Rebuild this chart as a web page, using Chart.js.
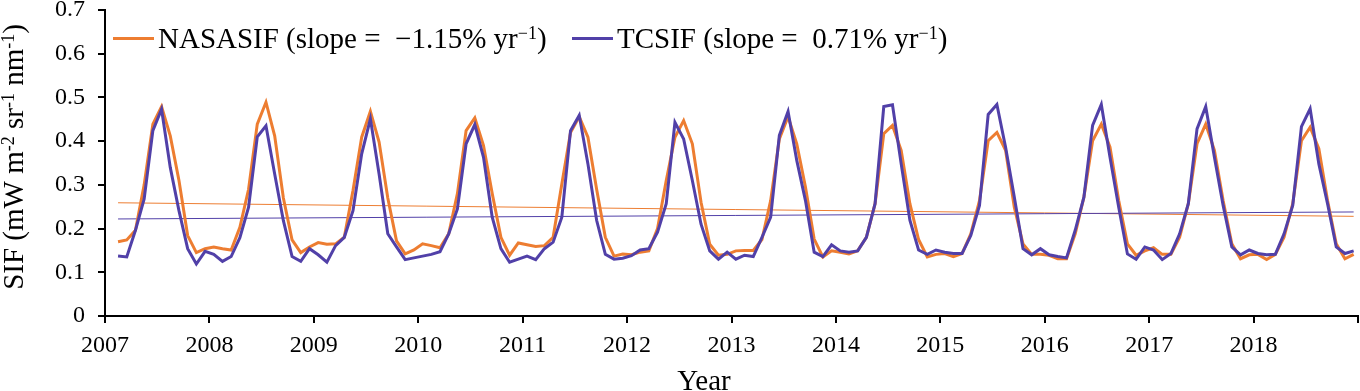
<!DOCTYPE html>
<html>
<head>
<meta charset="utf-8">
<script src="https://cdn.jsdelivr.net/npm/chart.js@4.4.1/dist/chart.umd.min.js"></script>
<style>
  html, body { margin: 0; padding: 0; background: #fff; }
  canvas { display: block; }
</style>
</head>
<body>
<canvas id="sif" width="1360" height="391"></canvas>
<script>
// monthly series, Feb 2007 .. Dec 2018 (one row per year)
const startYear = 2007;
const startMonth = 2;

const nasaSIF = [
  0.170, 0.174, 0.196, 0.300, 0.439, 0.479, 0.412, 0.310, 0.184, 0.145, 0.154,
  0.158, 0.154, 0.151, 0.203, 0.290, 0.439, 0.489, 0.412, 0.270, 0.174, 0.145, 0.158,
  0.168, 0.164, 0.165, 0.180, 0.287, 0.409, 0.468, 0.398, 0.270, 0.172, 0.142, 0.151,
  0.165, 0.161, 0.156, 0.188, 0.280, 0.424, 0.453, 0.390, 0.280, 0.180, 0.139, 0.167,
  0.163, 0.159, 0.161, 0.180, 0.302, 0.420, 0.456, 0.409, 0.290, 0.180, 0.137, 0.142,
  0.140, 0.146, 0.149, 0.200, 0.310, 0.409, 0.447, 0.394, 0.260, 0.164, 0.139, 0.141,
  0.149, 0.150, 0.150, 0.175, 0.264, 0.405, 0.456, 0.394, 0.295, 0.176, 0.135, 0.149,
  0.146, 0.142, 0.149, 0.180, 0.257, 0.417, 0.436, 0.379, 0.257, 0.175, 0.135, 0.141,
  0.143, 0.136, 0.143, 0.188, 0.264, 0.401, 0.420, 0.379, 0.249, 0.165, 0.141, 0.141,
  0.139, 0.131, 0.131, 0.188, 0.272, 0.401, 0.439, 0.386, 0.264, 0.165, 0.139, 0.149,
  0.156, 0.141, 0.141, 0.180, 0.257, 0.394, 0.439, 0.379, 0.264, 0.165, 0.131, 0.140,
  0.141, 0.129, 0.141, 0.180, 0.257, 0.401, 0.432, 0.383, 0.264, 0.165, 0.131, 0.141
];

const tcSIF = [
  0.137, 0.135, 0.196, 0.268, 0.424, 0.473, 0.340, 0.241, 0.154, 0.119, 0.148,
  0.141, 0.125, 0.136, 0.179, 0.249, 0.410, 0.435, 0.325, 0.218, 0.136, 0.125, 0.154,
  0.140, 0.123, 0.161, 0.180, 0.241, 0.371, 0.451, 0.325, 0.188, 0.158, 0.129, 0.133,
  0.137, 0.141, 0.147, 0.188, 0.245, 0.394, 0.438, 0.363, 0.226, 0.154, 0.123, 0.130,
  0.137, 0.129, 0.154, 0.169, 0.226, 0.424, 0.459, 0.348, 0.219, 0.141, 0.130, 0.132,
  0.138, 0.151, 0.154, 0.192, 0.257, 0.443, 0.405, 0.310, 0.210, 0.149, 0.130, 0.146,
  0.130, 0.139, 0.136, 0.180, 0.226, 0.413, 0.468, 0.356, 0.264, 0.146, 0.136, 0.163,
  0.149, 0.146, 0.149, 0.180, 0.257, 0.479, 0.483, 0.348, 0.219, 0.151, 0.141, 0.151,
  0.146, 0.143, 0.143, 0.184, 0.253, 0.461, 0.484, 0.386, 0.272, 0.154, 0.140, 0.154,
  0.140, 0.136, 0.133, 0.196, 0.272, 0.436, 0.484, 0.363, 0.249, 0.142, 0.130, 0.158,
  0.151, 0.129, 0.143, 0.188, 0.257, 0.428, 0.479, 0.363, 0.253, 0.158, 0.140, 0.151,
  0.143, 0.140, 0.141, 0.188, 0.253, 0.433, 0.474, 0.348, 0.257, 0.158, 0.143, 0.149
];

// linear trend lines, value at first and last month
const nasaTrend = [0.259, 0.228];
const tcTrend = [0.222, 0.238];

const yearTicks = [2007, 2008, 2009, 2010, 2011, 2012, 2013, 2014, 2015, 2016, 2017, 2018];
const yTicks = [0, 0.1, 0.2, 0.3, 0.4, 0.5, 0.6, 0.7];

const ORANGE = "#ED7D31";
const PURPLE = "#5140A8";
const FONT = "'Liberation Serif', 'Times New Roman', serif";

// month -> decimal year at mid-month
const monthX = nasaSIF.map((_, i) => {
  const m = startMonth - 1 + i;
  return startYear + Math.floor(m / 12) + ((m % 12) + 0.5) / 12;
});
const toPoints = (arr) => arr.map((v, i) => ({ x: monthX[i], y: v }));
const trendPoints = (ends) => [
  { x: monthX[0], y: ends[0] },
  { x: monthX[monthX.length - 1], y: ends[1] }
];

// text with superscript pieces; parts = [[text, isSup], ...]
function richText(ctx, parts, x, y, size) {
  let cx = x;
  parts.forEach(([t, sup]) => {
    ctx.font = (sup ? Math.round(size * 0.62) : size) + "px " + FONT;
    ctx.fillText(t, cx, sup ? y - size * 0.3 : y);
    cx += ctx.measureText(t).width;
  });
  return cx;
}
function richWidth(ctx, parts, size) {
  let w = 0;
  parts.forEach(([t, sup]) => {
    ctx.font = (sup ? Math.round(size * 0.62) : size) + "px " + FONT;
    w += ctx.measureText(t).width;
  });
  return w;
}

const legendItems = [
  { color: ORANGE, parts: [["NASASIF (slope =  \u22121.15% yr", false], ["\u22121", true], [")", false]], x: 113 },
  { color: PURPLE, parts: [["TCSIF (slope =  0.71% yr", false], ["\u22121", true], [")", false]], x: 572 }
];

const textPlugin = {
  id: "textPlugin",
  afterDraw(chart) {
    const ctx = chart.ctx;
    ctx.save();
    ctx.fillStyle = "#000";
    ctx.textBaseline = "alphabetic";
    ctx.textAlign = "left";

    // legend
    legendItems.forEach(item => {
      ctx.strokeStyle = item.color;
      ctx.lineWidth = 3;
      ctx.beginPath();
      ctx.moveTo(item.x, 38.5);
      ctx.lineTo(item.x + 41, 38.5);
      ctx.stroke();
      richText(ctx, item.parts, item.x + 45, 48, 29);
    });

    // x title
    ctx.font = "29px " + FONT;
    ctx.textAlign = "center";
    ctx.fillText("Year", 704, 390);
    ctx.textAlign = "left";

    // y title
    const yParts = [["SIF (mW m", false], ["-2", true], [" sr", false], ["-1", true], [" nm", false], ["-1", true], [")", false]];
    const w = richWidth(ctx, yParts, 29);
    ctx.translate(23, 157);
    ctx.rotate(-Math.PI / 2);
    richText(ctx, yParts, -w / 2, 0, 29);
    ctx.restore();
  }
};

new Chart(document.getElementById("sif"), {
  type: "line",
  data: {
    datasets: [
      {
        label: "TCSIF",
        data: toPoints(tcSIF),
        borderColor: PURPLE,
        borderWidth: 3,
        pointRadius: 0,
        tension: 0,
        order: 0
      },
      {
        label: "NASASIF",
        data: toPoints(nasaSIF),
        borderColor: ORANGE,
        borderWidth: 3,
        pointRadius: 0,
        tension: 0,
        order: 1
      },
      {
        label: "TCSIF trend",
        data: trendPoints(tcTrend),
        borderColor: PURPLE,
        borderWidth: 1,
        pointRadius: 0,
        order: 2
      },
      {
        label: "NASASIF trend",
        data: trendPoints(nasaTrend),
        borderColor: ORANGE,
        borderWidth: 1,
        pointRadius: 0,
        order: 3
      }
    ]
  },
  options: {
    responsive: false,
    animation: false,
    devicePixelRatio: 1,
    layout: { padding: { top: 10, right: 2, left: 0, bottom: 0 } },
    plugins: {
      legend: { display: false },
      tooltip: { enabled: false }
    },
    scales: {
      x: {
        type: "linear",
        min: 2007,
        max: 2019,
        afterBuildTicks: (scale) => {
          scale.ticks = yearTicks.concat([2019]).map(v => ({ value: v }));
        },
        afterFit: (scale) => {
          scale.height = 75;
          scale.paddingLeft = 0;
          scale.paddingRight = 0;
        },
        ticks: {
          color: "#000",
          font: { family: FONT, size: 24 },
          padding: 8,
          maxRotation: 0,
          autoSkip: false,
          callback: (v) => (yearTicks.includes(v) ? String(v) : "")
        },
        grid: { drawOnChartArea: false, drawTicks: true, tickLength: 7, color: "#000", lineWidth: 2 },
        border: { color: "#000", width: 2 }
      },
      y: {
        min: 0,
        max: 0.7,
        afterBuildTicks: (scale) => {
          scale.ticks = yTicks.map(v => ({ value: v }));
        },
        afterFit: (scale) => {
          scale.width = 105;
          scale.paddingTop = 0;
          scale.paddingBottom = 0;
        },
        ticks: {
          color: "#000",
          font: { family: FONT, size: 24 },
          padding: 13,
          callback: (v) => String(Math.round(v * 10) / 10)
        },
        grid: { drawOnChartArea: false, drawTicks: true, tickLength: 7, color: "#000", lineWidth: 2 },
        border: { color: "#000", width: 2 }
      }
    }
  },
  plugins: [textPlugin]
});
</script>
</body>
</html>
